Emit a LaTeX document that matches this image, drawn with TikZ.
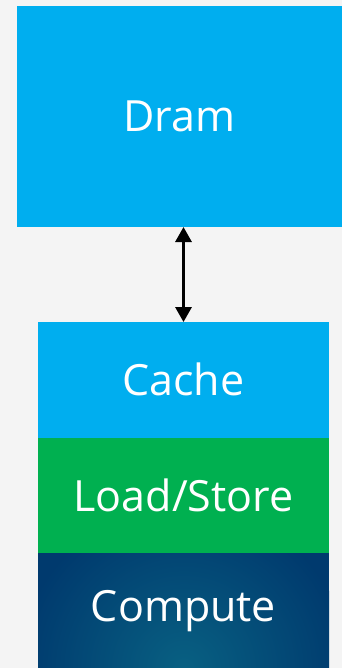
\documentclass[tikz,border=0pt]{standalone}
\usepackage{fontspec}
\setmainfont{Open Sans}
\usetikzlibrary{positioning}
\usetikzlibrary{arrows.meta}
\definecolor{dram-blue}{RGB}{0, 174, 239}
\definecolor{ls-green}{RGB}{0, 176, 80}
\definecolor{compute-dark}{RGB}{0, 58, 110}
\definecolor{compute-light}{RGB}{8, 96, 130}
\definecolor{page-grey}{RGB}{244, 244, 244}

\begin{document}
\begin{tikzpicture}[x=1pt, y=-1pt,
    block/.style={rectangle, inner sep=0pt, outer sep=0pt, text=white,
        font=\fontsize{43}{50}\selectfont, minimum width=291pt, minimum height=115.5pt}]
\fill[page-grey] (0,0) rectangle (342,668);
\useasboundingbox (0,0) rectangle (342,668);
\node[block, fill=dram-blue, minimum width=325pt, minimum height=221pt] (dram) at (179.5,116.5) {Dram};
\node[block, fill=dram-blue] (cache) at (183.5,379.8) {Cache};
\node[block, fill=ls-green, below=0pt of cache] (loadstore) {Load/Store};
\node[block, below=0pt of loadstore, path picture={
        \fill[compute-dark] (path picture bounding box.south west) rectangle (path picture bounding box.north east);
        \shade[inner color=compute-light, outer color=compute-dark] (path picture bounding box.south) circle (165pt);
    }] (compute) {Compute};
\draw[line width=3pt, {Triangle[width=16pt,length=15pt]}-{Triangle[width=16pt,length=15pt]}] (dram.south -| cache.north) -- (cache.north);
\end{tikzpicture}
\end{document}
